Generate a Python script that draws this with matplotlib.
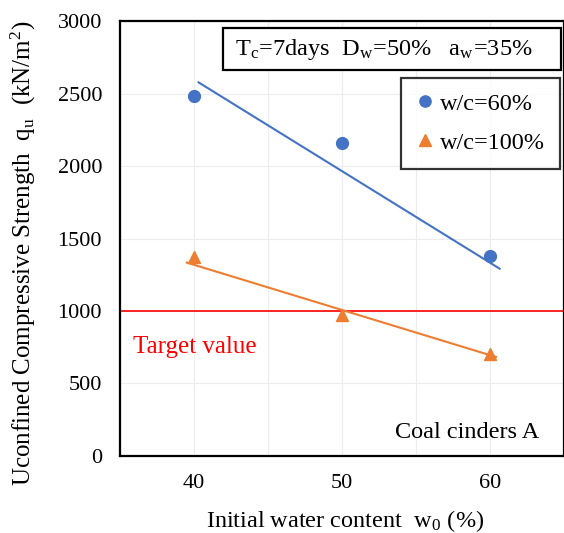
import numpy as np
import matplotlib.pyplot as plt
from matplotlib.patches import Rectangle

# data
w0 = [40, 50, 60]
qu_wc60 = [2480, 2157, 1381]
qu_wc100 = [1370, 975, 705]
# trend line end points as drawn in the reference
trend60_x = [40.3, 60.65]
trend60_y = [2577, 1292]
trend100_x = [39.5, 60.4]
trend100_y = [1334, 683]
target = 1000
x_ticks = [40, 50, 60]
y_ticks = [0, 500, 1000, 1500, 2000, 2500, 3000]

blue = '#4472C4'
orange = '#ED7D31'

plt.rcParams['font.family'] = ['Liberation Serif', 'DejaVu Serif']
plt.rcParams['mathtext.fontset'] = 'stix'

fig = plt.figure(figsize=(5.64, 5.33), dpi=100)
ax = fig.add_axes([0.213, 0.1445, 0.787, 0.816])

ax.set_xlim(35, 65)
ax.set_ylim(0, 3000)
ax.set_xticks(x_ticks)
ax.set_xticks(np.arange(35, 66, 5), minor=True)
ax.set_yticks(y_ticks)
ax.grid(True, which='both', color='#ececec', lw=0.8)
ax.set_axisbelow(True)
ax.tick_params(which='both', length=0, labelsize=16, pad=13)
for s in ax.spines.values():
    s.set_linewidth(1.6)
    s.set_color('black')

# target line
ax.axhline(target, color='#ff0000', lw=1.2)
ax.text(35.9, 752, 'Target value', color='#ff0000', fontsize=18, va='center')

# trend lines
ax.plot(trend60_x, trend60_y, color=blue, lw=1.5)
ax.plot(trend100_x, trend100_y, color=orange, lw=1.5)

ax.plot(w0, qu_wc60, 'o', color=blue, ms=8.5, label='w/c=60%', zorder=3)
ax.plot(w0, qu_wc100, '^', color=orange, ms=9, label='w/c=100%', zorder=3)

leg = ax.legend(loc='upper right', bbox_to_anchor=(0.991, 0.870), fontsize=17.5,
                frameon=True, fancybox=False, edgecolor='black', handlelength=0.8,
                handletextpad=0.2, borderpad=0.62, labelspacing=0.7, markerscale=0.95,
                borderaxespad=0)
leg.get_frame().set_linewidth(1.6)

# condition box
ax.add_patch(Rectangle((0.232, 0.887), 0.761, 0.097, transform=ax.transAxes,
                       fc='white', ec='black', lw=1.6, zorder=4, clip_on=False))
ax.text(0.259, 0.934, r'T$_\mathregular{c}$=7days  D$_\mathregular{w}$=50%   a$_\mathregular{w}$=35%',
        transform=ax.transAxes, ha='left', va='center', fontsize=17.5, zorder=5)
ax.text(0.945, 0.053, 'Coal cinders A', transform=ax.transAxes, ha='right', va='center',
        fontsize=17.5)

ax.set_xlabel(r'Initial water content  w$_\mathregular{0}$ (%)', fontsize=17.5)
ax.xaxis.set_label_coords(0.506, -0.12)
ax.set_ylabel(r'Uconfined Compressive Strength  q$_\mathregular{u}$  (kN/m$^\mathregular{2}$)',
              fontsize=18)
ax.yaxis.set_label_coords(-0.185, 0.467)

fig.savefig('out.png', dpi=100)
